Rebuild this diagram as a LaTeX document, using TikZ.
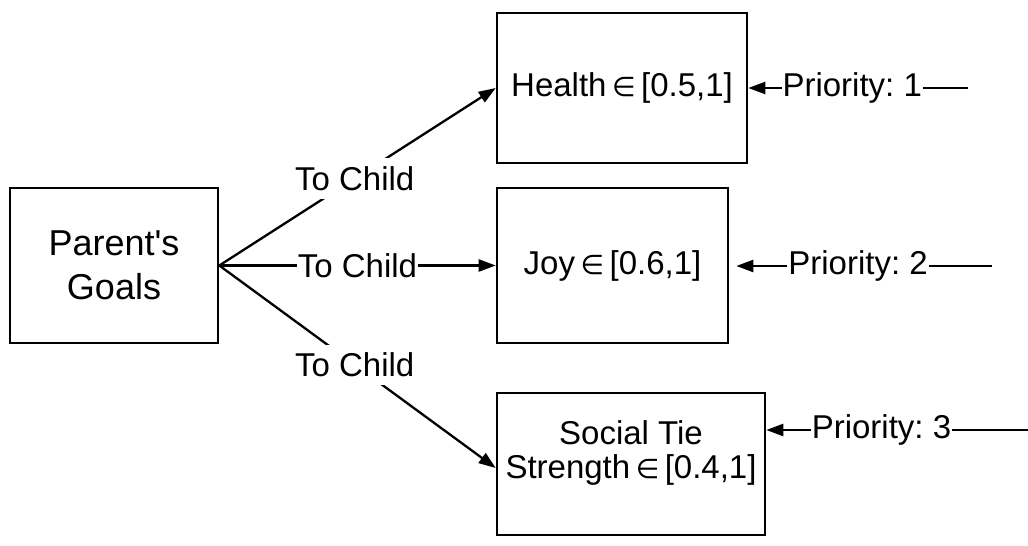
\documentclass[tikz,border=0pt]{standalone}
\usepackage{fontspec}
\setmainfont{Liberation Sans}
\newfontfamily\symfam{DejaVu Sans}
\usetikzlibrary{arrows.meta}
\frenchspacing
% element-of sign taken from DejaVu Sans
\newcommand{\elem}{\,{\symfam\fontsize{27}{27}\selectfont ∈}\,}
\begin{document}
\begin{tikzpicture}[x=1pt,y=-1pt,
  box/.style={draw, line width=2.6pt, inner sep=0pt, font=\fontsize{33}{40}\selectfont},
  conn/.style={line width=2.3pt, -{Triangle[length=17pt,width=12pt]}},
  lbl/.style={fill=white, inner xsep=1pt, inner ysep=8pt, font=\fontsize{33}{40}\selectfont},
]
\useasboundingbox (0,0) rectangle (1028,546);

% goal boxes
\node[box, minimum width=208pt, minimum height=155pt, align=center,
      font=\fontsize{36}{44}\selectfont] (parent) at (114,265.5) {Parent\textquotesingle s\\Goals};
\node[box, minimum width=250pt, minimum height=150pt] (health) at (622,88) {Health\elem[0.5,1]};
\node[box, minimum width=231pt, minimum height=155pt] (joy) at (612.5,265.5) {Joy\elem[0.6,1]};
\node[box, minimum width=268pt, minimum height=142pt] (social) at (631,464) {};
\node[align=center, font=\fontsize{33}{34}\selectfont] (socialtext) at (631,453)
      {Social Tie\\Strength\elem[0.4,1]};

% parent to child connectors
\draw[conn] (parent.east) -- node[lbl, pos=0.49] {To Child} (health.west);
\draw[conn] (parent.east) -- node[lbl, pos=0.5] {To Child} (joy.west);
\draw[conn] (parent.east) -- node[lbl, pos=0.49] {To Child} ([yshift=-4pt]social.west);

% priority inputs
\coordinate (p1) at (968,88);
\coordinate (p2) at (992,266);
\coordinate (p3) at (1028,430);
\draw[conn] (p1) -- node[lbl, pos=0.527] {Priority: 1} (p1 -| health.east);
\draw[conn, shorten >=7pt] (p2) -- node[lbl, pos=0.51] {Priority: 2} (p2 -| joy.east);
\draw[conn] (p3) -- node[lbl, pos=0.56] {Priority: 3} (p3 -| social.east);
\end{tikzpicture}
\end{document}
